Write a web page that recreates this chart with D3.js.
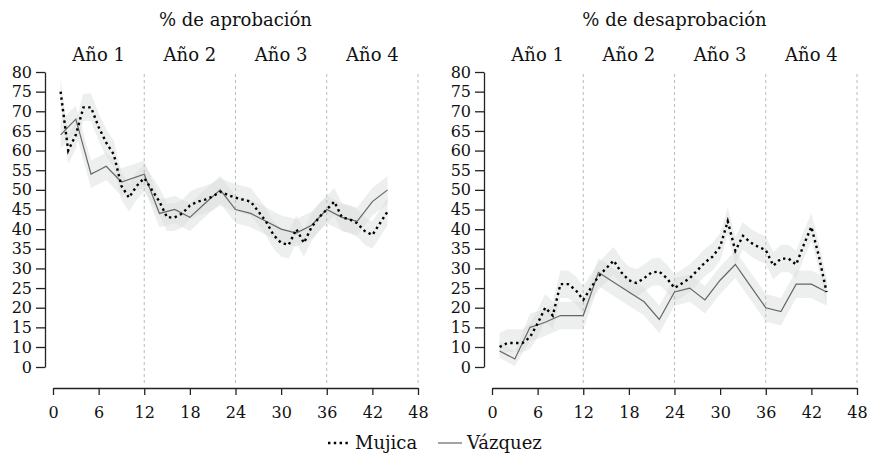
<!DOCTYPE html>
<html>
<head>
<meta charset="utf-8">
<script src="https://cdn.jsdelivr.net/npm/d3@7"></script>
<style>
body { margin: 0; background: #fff; }
text { font-family: "DejaVu Serif", serif; fill: #111; }
</style>
</head>
<body>
<div id="chart"></div>
<script>
// meses de gobierno
const mujicaMonths = [1, 2, 3, 4, 5, 6, 7, 8, 9, 10, 11, 12, 13, 14, 15, 16, 17, 18, 19, 20, 21, 22,
    23, 24, 25, 26, 27, 28, 29, 30, 31, 32, 33, 34, 35, 36, 37, 38, 39, 40, 41, 42, 43, 44];
const mujicaAprob = [75, 60, 64, 71, 71, 66, 62, 59, 51, 48, 51, 53, 50, 47, 43, 43, 44, 46, 47, 47.5, 48.3, 49.5,
    48.7, 48, 47.5, 47, 44.5, 42, 38.5, 36.5, 36, 40, 36.5, 40.5, 43, 45, 47, 43, 42.5, 41.5, 39.5, 38.5, 41.5, 44.5];
const mujicaDesaprob = [10, 11, 11, 11, 12.5, 16, 20, 18, 26, 26, 24.5, 22, 25, 28, 30, 32, 29, 27, 26.3, 27.5, 29, 29.2,
    27.5, 25, 26.2, 27.5, 29.5, 31.5, 33, 35.5, 42, 34.5, 38.3, 36.6, 35.5, 34.7, 30.7, 32.5, 32.5, 31, 36, 40.6, 33, 24];

const vazquezMonths = [1, 3, 5, 6, 7, 9, 12, 14, 16, 18, 20, 22, 24, 26, 28, 30, 32, 34, 36, 38, 40, 42, 44];
const vazquezAprob = [64, 68, 54, 55, 56, 52, 54, 44, 45, 43, 46.6, 50, 45, 44, 42, 40, 39, 41, 45, 43, 42, 47, 50];
const vazquezDesaprob = [8, 4, 15, 15.6, 16.3, 18, 18, 29, 26.5, 24, 21.5, 17, 24, 25, 22, 27, 31, 25.5, 20, 19, 26, 26, 24];

const yearLabels = ["Año 1", "Año 2", "Año 3", "Año 4"];
const yearCenters = [6, 18, 30, 42];
const yearBreaks = [12, 24, 36, 48];
const xTicks = [0, 6, 12, 18, 24, 30, 36, 42, 48];
const yTicks = [0, 10, 15, 20, 25, 30, 35, 40, 45, 50, 55, 60, 65, 70, 75, 80];
const errorMargin = 3.5;

const width = 869, height = 461;

const svg = d3.select("#chart")
    .append("svg")
    .attr("width", width)
    .attr("height", height);

// el tramo 0-10 va comprimido, como en el original
const y = d3.scaleLinear()
    .domain([0, 10, 80])
    .range([367, 347, 72]);

const panels = [
    {title: "% de aprobación", offset: 0, mujica: mujicaAprob, vazquez: vazquezAprob},
    {title: "% de desaprobación", offset: 439, mujica: mujicaDesaprob, vazquez: vazquezDesaprob}
];

panels.forEach(p => {
    const g = svg.append("g")
        .attr("transform", `translate(${p.offset},0)`);

    const x = d3.scaleLinear()
        .domain([0, 48])
        .range([53, 418]);

    const mData = mujicaMonths.map((t, i) => ({t: t, v: p.mujica[i]}));
    const vData = vazquezMonths.map((t, i) => ({t: t, v: p.vazquez[i]}));

    const band = d3.area()
        .x(d => x(d.t))
        .y0(d => y(Math.max(0, d.v - errorMargin)))
        .y1(d => y(d.v + errorMargin));

    const line = d3.line()
        .x(d => x(d.t))
        .y(d => y(d.v));

    [mData, vData].forEach(data => {
        g.append("path")
            .datum(data)
            .attr("d", band)
            .style("fill", "#d6dbd9")
            .style("fill-opacity", 0.45);
    });

    g.selectAll(".year-line")
        .data(yearBreaks)
        .enter()
        .append("line")
        .attr("x1", d => x(d))
        .attr("x2", d => x(d))
        .attr("y1", 74)
        .attr("y2", 384)
        .style("stroke", "#bbb")
        .style("stroke-dasharray", "3 3");

    g.append("path")
        .datum(vData)
        .attr("d", line)
        .style("fill", "none")
        .style("stroke", "#666")
        .style("stroke-width", 1.2);

    g.append("path")
        .datum(mData)
        .attr("d", line)
        .style("fill", "none")
        .style("stroke", "#000")
        .style("stroke-width", 2.4)
        .style("stroke-dasharray", "2.4 3.4");

    const yAxis = g.append("g")
        .attr("transform", `translate(${x(0) - 8},0)`)
        .call(d3.axisLeft(y).tickValues(yTicks).tickSize(9).tickSizeOuter(0).tickPadding(4));

    const xAxis = g.append("g")
        .attr("transform", "translate(0,388)")
        .call(d3.axisBottom(x).tickValues(xTicks).tickSize(7).tickSizeOuter(0).tickPadding(12));

    [yAxis, xAxis].forEach(a => {
        a.selectAll("path, line")
            .style("stroke", "#222")
            .style("stroke-width", 1.3);
        a.selectAll("text")
            .style("font-family", "DejaVu Serif")
            .style("font-size", "16px")
            .style("fill", "#111");
    });

    g.append("text")
        .attr("x", x(24))
        .attr("y", 26)
        .attr("text-anchor", "middle")
        .style("font-size", "18px")
        .text(p.title);

    g.selectAll(".year")
        .data(yearLabels)
        .enter()
        .append("text")
        .attr("x", (d, i) => x(yearCenters[i]))
        .attr("y", 61)
        .attr("text-anchor", "middle")
        .style("font-size", "18px")
        .text(d => d);
});

// leyenda
const legend = svg.append("g");

legend.append("line")
    .attr("x1", 328).attr("x2", 349)
    .attr("y1", 443).attr("y2", 443)
    .style("stroke", "#000")
    .style("stroke-width", 2.4)
    .style("stroke-dasharray", "2.4 3.4");

legend.append("text")
    .attr("x", 355)
    .attr("y", 449)
    .style("font-size", "18px")
    .text("Mujica");

legend.append("line")
    .attr("x1", 438).attr("x2", 462)
    .attr("y1", 443).attr("y2", 443)
    .style("stroke", "#666")
    .style("stroke-width", 1.2);

legend.append("text")
    .attr("x", 467)
    .attr("y", 449)
    .style("font-size", "18px")
    .text("Vázquez");
</script>
</body>
</html>
